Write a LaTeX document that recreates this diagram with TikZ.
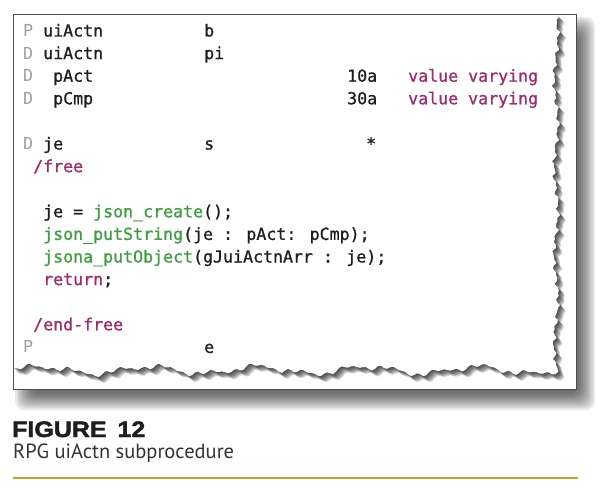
\documentclass[tikz,border=0pt]{standalone}
\usepackage{fontspec}
\setmainfont{PT Sans}
\newfontfamily\codefont[FakeBold=0.9]{DejaVu Sans Mono}
\newfontfamily\tagfont{DejaVu Sans Mono}
\newfontfamily\figfont[FakeStretch=1.12,BoldFeatures={FakeBold=2}]{Liberation Sans}
\usepackage{tikz}

\definecolor{txtdark}{RGB}{30,30,30}
\definecolor{kwpink}{RGB}{163,42,108}
\definecolor{fngreen}{RGB}{60,160,62}
\definecolor{ruleline}{RGB}{212,156,42}

\begin{document}
\begin{tikzpicture}[x=1pt,y=-1pt]
        \tikzset{code/.style={anchor=base west,inner sep=0pt,font=\codefont\fontsize{16.6}{20}\selectfont,text=txtdark},
        tag/.style={code,font=\tagfont\fontsize{16.6}{20}\selectfont,text=gray!75},
        kw/.style={code,text=kwpink},
        paper/.style={insert path={(13,14) -- (556,14)
            foreach \iy in {1,...,119} { -- ({556+2*sin(\iy*12.3)+1.4*sin(\iy*71)+1.1*sin(\iy*131)},{14+3*\iy}) }
            -- (558,372)
            foreach \ix in {1,...,181} { -- ({558-3*\ix},{370+3.5*sin(\ix*9.9)+2*sin(\ix*23.7+40)+1.3*sin(\ix*83)+0.9*sin(\ix*59)}) }
            -- (13,368) -- cycle}},
        }
        \useasboundingbox (0,0) rectangle (600,492);

%% frame and shadows
        \foreach \k in {0,...,8}
            \fill[black,opacity=0.085,rounded corners=9pt] ({15+2*\k},{17+2*\k}) rectangle ({595-2*\k},{410-2*\k});
        \fill[white] (13,14) rectangle (576,389);
        \foreach \d in {1,...,6}
            \fill[black,opacity=0.17,shift={(\d,\d)},paper];
        \fill[white,paper];
        \draw[gray!60!black,line width=0.8pt] (13,14) rectangle (576,389);

%% code lines
        \node[tag]  (p1) at (23,36.5) {P};
        \node[code] (n1) at (43,36.5) {uiActn};
        \node[code] (t1) at (204,36.5) {b};

        \node[tag]  (d1) at (23,59.1) {D};
        \node[code] (n2) at (43,59.1) {uiActn};
        \node[code] (t2) at (204,59.1) {pi};

        \node[tag]  (d2) at (23,81.7) {D};
        \node[code] (n3) at (53,81.7) {pAct};
        \node[code] (l3) at (347,81.7) {10a};
        \node[kw]   (v3) at (408,81.7) {value varying};

        \node[tag]  (d3) at (23,104.3) {D};
        \node[code] (n4) at (53,104.3) {pCmp};
        \node[code] (l4) at (347,104.3) {30a};
        \node[kw]   (v4) at (408,104.3) {value varying};

        \node[tag]  (d4) at (23,149.5) {D};
        \node[code] (n5) at (43,149.5) {je};
        \node[code] (t5) at (204,149.5) {s};
        \node[code] (k5) at (366,149.5) {*};

        \node[kw]   (fr) at (33,172.1) {/free};

        \node[code] (c1) at (43,217.3) {je = \textcolor{fngreen}{json\_create}();};
        \node[code] (c2) at (43,239.9) {\textcolor{fngreen}{json\_putString}(je : pAct: pCmp);};
        \node[code] (c3) at (43,262.5) {\textcolor{fngreen}{jsona\_putObject}(gJuiActnArr : je);};
        \node[code] (c4) at (43,285.1) {\textcolor{kwpink}{return};};

        \node[kw]   (ef) at (33,330.3) {/end-free};
        \node[tag]  (p2) at (23,352.9) {P};
        \node[code] (t6) at (204,352.9) {e};

%% caption
        \node[anchor=base west,inner sep=0pt,text=txtdark,font=\figfont\bfseries\fontsize{22.3}{26}\selectfont] (fig) at (12,437) {FIGURE\hspace{4pt} 12};
        \node[anchor=base west,inner sep=0pt,text=black!80,font=\fontsize{20.5}{24}\selectfont] (sub) at (13,458) {RPG uiActn subprocedure};
        \coordinate (rl) at (13,478);
        \coordinate (rr) at (578,478);
        \draw[ruleline,line width=2.5pt] (rl) -- (rr);
    \end{tikzpicture}
\end{document}
